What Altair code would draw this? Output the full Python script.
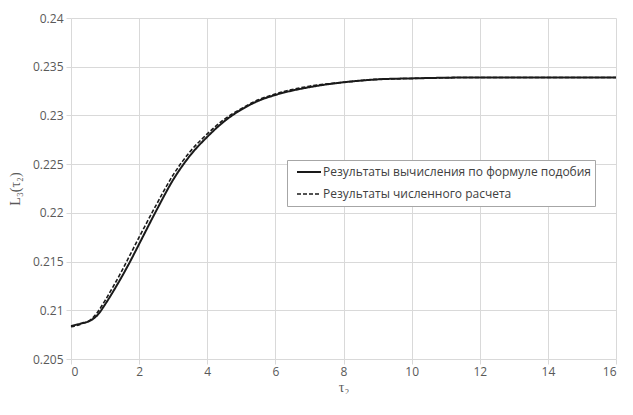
import altair as alt
import pandas as pd

x_vals = [0, 0.3, 0.6, 0.8, 1.0, 1.25, 1.5, 1.75, 2.0, 2.5, 3.0, 3.5, 4.0, 4.5, 5.0, 5.5, 6.0, 7.0, 8.0, 9.0, 10.0, 12.0, 14.0, 16.0]
solid_vals = [0.2084, 0.20865, 0.2090, 0.2096, 0.2106, 0.2120, 0.2135, 0.2151, 0.2168, 0.2202, 0.2234, 0.2259, 0.2278, 0.2294, 0.2306, 0.2315, 0.2321, 0.2329, 0.2334, 0.2337, 0.2338, 0.2339, 0.2339, 0.2339]
dashed_vals = [0.2083, 0.2086, 0.2091, 0.2099, 0.2110, 0.2125, 0.2141, 0.2158, 0.2175, 0.2208, 0.2239, 0.2263, 0.2281, 0.2296, 0.2307, 0.2316, 0.2322, 0.2330, 0.2334, 0.2337, 0.2338, 0.2339, 0.2339, 0.2339]
series_names = ["Результаты вычисления по формуле подобия", "Результаты численного расчета"]
y_ticks = [0.205, 0.21, 0.215, 0.22, 0.225, 0.23, 0.235, 0.24]
x_ticks = [0, 2, 4, 6, 8, 10, 12, 14, 16]

rows = []
for name, vals in zip(series_names, [solid_vals, dashed_vals]):
    for xv, yv in zip(x_vals, vals):
        rows.append({"t": xv, "L": yv, "series": name})
df = pd.DataFrame(rows)

font = "Open Sans"
label_color = "#595959"

chart = alt.Chart(df).mark_line(interpolate="monotone", color="#1a1a1a").encode(
    x=alt.X("t:Q", scale=alt.Scale(domain=[0, 16], nice=False),
            axis=alt.Axis(values=x_ticks, title="τ₂", titleFont="Liberation Serif",
                          titleFontWeight="normal", titleFontSize=14, titleColor=label_color,
                          titlePadding=3, labelPadding=2)),
    y=alt.Y("L:Q", scale=alt.Scale(domain=[0.205, 0.24], nice=False, zero=False),
            axis=alt.Axis(values=y_ticks, format="~g",
                          title="L₃(τ₂)", titleFont="Liberation Serif", titleFontWeight="normal",
                          titleFontSize=14, titleColor=label_color, titlePadding=10, labelPadding=3)),
    strokeDash=alt.StrokeDash("series:N", sort=series_names,
                              scale=alt.Scale(domain=series_names, range=[[1, 0], [4, 2]]),
                              legend=alt.Legend(title=None, orient="none", legendX=216, legendY=142,
                                                symbolType="stroke", symbolSize=576, clipHeight=18,
                                                symbolOffset=6,
                                                symbolStrokeColor="#1a1a1a", symbolStrokeWidth=2,
                                                labelFont=font, labelFontSize=12, labelColor="#404040",
                                                labelOffset=1, rowPadding=4, padding=3,
                                                labelExpr="datum.label + '\u00a0\u00a0'",
                                                fillColor="white", strokeColor="#a6a6a6",
                                                labelLimit=400)),
    strokeWidth=alt.StrokeWidth("series:N", scale=alt.Scale(domain=series_names, range=[2, 1.6]), legend=None),
).properties(
    width=545, height=341,
    padding={"left": 0, "right": 0, "top": 4, "bottom": 0},
).configure_axis(
    labelFont=font, labelFontSize=12, labelColor=label_color,
    gridColor="#d9d9d9", gridWidth=1, domain=False,
    tickColor="#d9d9d9", tickSize=5,
).configure_view(stroke=None)

chart.save("out.html", embed_options={"renderer": "svg", "actions": False})
